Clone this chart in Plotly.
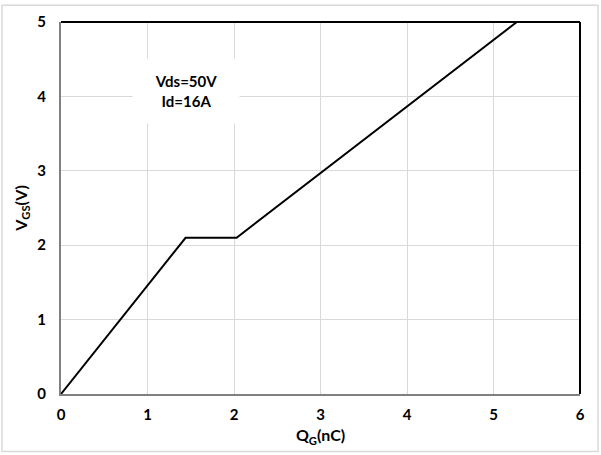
import plotly.graph_objects as go

qg = [0, 1.44, 2.03, 5.27]
vgs = [0, 2.1, 2.1, 5.0]
x_ticks = [0, 1, 2, 3, 4, 5, 6]
y_ticks = [0, 1, 2, 3, 4, 5]

font_family = "Lato, Open Sans, Liberation Sans, Arial, sans-serif"

fig = go.Figure()
fig.add_trace(go.Scatter(x=qg, y=vgs, mode="lines",
                         line=dict(color="black", width=2), showlegend=False,
                         hoverinfo="skip"))

tick_font = dict(family=font_family, size=15, color="black", weight="bold")

fig.update_layout(
    width=601, height=455,
    margin=dict(l=61, r=21, t=19, b=61),
    paper_bgcolor="white", plot_bgcolor="white",
    font=dict(family=font_family, size=15, color="black"),
    xaxis=dict(range=[0, 6], tickvals=x_ticks, showgrid=True, gridcolor="#d9d9d9",
               gridwidth=1, zeroline=False, showline=True, linecolor="#808080",
               linewidth=2, ticks="outside", ticklen=6, tickcolor="rgba(0,0,0,0)",
               tickfont=tick_font,
               title=dict(text="<b>Q<sub>G</sub>(nC)</b>", standoff=8,
                          font=dict(family=font_family, size=16, color="black"))),
    yaxis=dict(range=[0, 5], tickvals=y_ticks, showgrid=True, gridcolor="#d9d9d9",
               gridwidth=1, zeroline=False, showline=True, linecolor="#808080",
               linewidth=2, ticks="outside", ticklen=10, tickcolor="rgba(0,0,0,0)",
               tickfont=tick_font,
               title=dict(text="<b>V<sub>GS</sub>(V)</b>", standoff=6,
                          font=dict(family=font_family, size=16, color="black"))),
    shapes=[
        dict(type="line", xref="x domain", yref="y domain", x0=0, x1=1, y0=1, y1=1,
             line=dict(color="black", width=2)),
        dict(type="line", xref="x domain", yref="y domain", x0=1, x1=1, y0=0, y1=1,
             line=dict(color="black", width=2)),
        dict(type="rect", xref="paper", yref="paper",
             x0=(2 - 61) / 519, x1=(598 - 61) / 519,
             y0=-(452 - 394) / 375, y1=1 + (19 - 2) / 375,
             line=dict(color="#d9d9d9", width=1.5), fillcolor="rgba(0,0,0,0)", layer="below"),
    ],
    annotations=[
        dict(x=1.44, y=4.07, xref="x", yref="y", text="<b>Vds=50V<br>Id=16A</b>",
             showarrow=False, bgcolor="white", width=104, height=62,
             font=dict(family=font_family, size=15, color="black"), align="center"),
    ],
)

fig.write_html("out.html", config={"displayModeBar": False},
               post_script="document.body.style.margin='0';")
